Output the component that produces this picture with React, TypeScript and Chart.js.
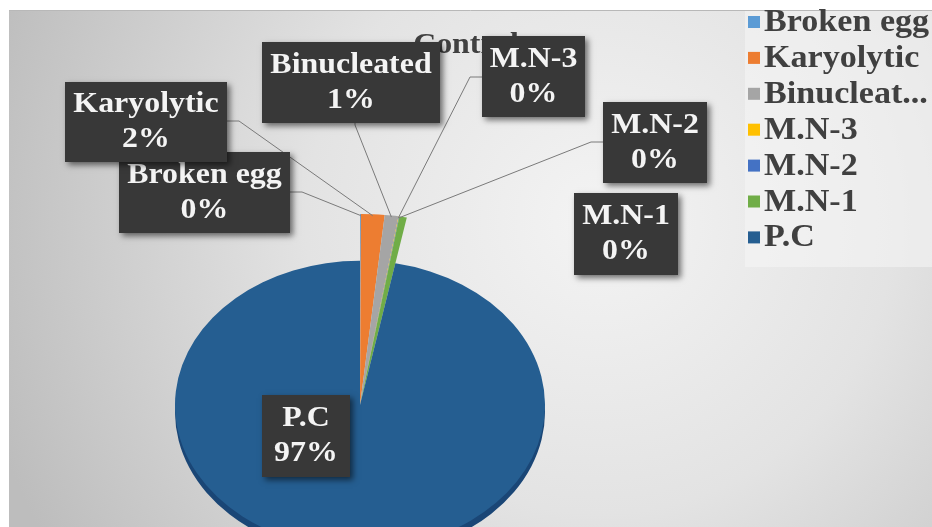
import React, { useEffect, useRef } from "react";
import { Chart, registerables } from "chart.js";

Chart.register(...registerables);

// ---- data ----
const categories = ["Broken egg", "Karyolytic", "Binucleated", "M.N-3", "M.N-2", "M.N-1", "P.C"];
const values = [0.06, 1.55, 0.9, 0.03, 0.03, 0.49, 96.94];
const sliceColors = ["#5B9BD5", "#ED7D31", "#A5A5A5", "#FFC000", "#4472C4", "#70AD47", "#255E91"];
// how far (px) each slice is pulled out beyond the pie rim (styling, not data)
const pullOut = [60, 60, 60, 60, 60, 60, 0];
const chartTitle = "Control";

// ---- layout (label boxes, not data) ----
type Box = { x: number; y: number; w: number; h: number; side: string; ay?: number; ax?: number };
const labelBoxes: Box[] = [
  { x: 119, y: 152, w: 171, h: 81, side: "right", ay: 192 },
  { x: 65, y: 82, w: 162, h: 80, side: "right", ay: 121 },
  { x: 262, y: 42, w: 178, h: 81, side: "bottom", ax: 355 },
  { x: 482, y: 36, w: 103, h: 81, side: "left", ay: 77 },
  { x: 603, y: 102, w: 104, h: 81, side: "left", ay: 142 },
  { x: 574, y: 193, w: 104, h: 82, side: "none" },
  { x: 262, y: 395, w: 88, h: 82, side: "none" },
];
const drawOrder = [2, 3, 4, 5, 6, 0, 1];

const SY = 0.78; // perspective squash
const DEPTH = 9;
const FONT = "'Liberation Serif', 'Times New Roman', serif";
const HS = 1.1;

function stretchedText(ctx: CanvasRenderingContext2D, t: string, x: number, y: number) {
  ctx.save();
  ctx.translate(x, y);
  ctx.scale(HS, 1);
  ctx.fillText(t, 0, 0);
  ctx.restore();
}

const bgPlugin = {
  id: "bgPlugin",
  beforeDraw(chart: any) {
    const ctx = chart.ctx as CanvasRenderingContext2D;
    const W = chart.width, H = chart.height;
    ctx.save();
    ctx.fillStyle = "#ffffff";
    ctx.fillRect(0, 0, W, H);
    const g = ctx.createRadialGradient(600, 220, 10, 600, 220, 640);
    g.addColorStop(0, "#f3f3f3");
    g.addColorStop(0.45, "#e3e3e3");
    g.addColorStop(1, "#bdbdbd");
    ctx.fillStyle = g;
    ctx.fillRect(9, 10, W - 9, H - 10);
    ctx.strokeStyle = "#b8b8b8";
    ctx.lineWidth = 1;
    ctx.beginPath();
    ctx.moveTo(9, 10.5);
    ctx.lineTo(W, 10.5);
    ctx.stroke();
    // legend panel
    ctx.fillStyle = "rgba(245,245,245,0.55)";
    ctx.fillRect(745, 11, W - 745, 256);

    // title (mostly hidden behind label boxes, as in the original)
    ctx.fillStyle = "#404040";
    ctx.font = `bold 29px ${FONT}`;
    ctx.textAlign = "center";
    ctx.textBaseline = "middle";
    stretchedText(ctx, chartTitle, 466, 46);

    // legend
    const labels: string[] = chart.data.labels;
    const colors: string[] = chart.data.datasets[0].backgroundColor;
    ctx.font = `bold 31px ${FONT}`;
    ctx.textAlign = "left";
    const textX = 764;
    const maxW = (W - textX) / HS;
    labels.forEach((lab, i) => {
      const cy = 22 + i * 35.9;
      ctx.fillStyle = colors[i];
      ctx.fillRect(748, cy - 6, 12, 12);
      let t = lab;
      if (ctx.measureText(t).width > maxW) {
        while (t.length > 1 && ctx.measureText(t + "...").width > maxW) t = t.slice(0, -1);
        t = t + "...";
      }
      ctx.fillStyle = "#404040";
      stretchedText(ctx, t, textX, cy + 1);
    });
    ctx.restore();
  },
};

function arcCenter(chart: any) {
  const a = chart.getDatasetMeta(0).data[0];
  return { cx: a.x, cy: a.y };
}

const ellipsePlugin = {
  id: "ellipsePlugin",
  afterDatasetsUpdate(chart: any) {
    const meta = chart.getDatasetMeta(0);
    meta.data.forEach((arc: any, i: number) => {
      arc.outerRadius = arc.outerRadius + (pullOut[i] || 0);
    });
  },
  beforeDatasetsDraw(chart: any) {
    const ctx = chart.ctx as CanvasRenderingContext2D;
    const { cx, cy } = arcCenter(chart);
    ctx.save();
    ctx.translate(cx, cy);
    ctx.scale(1, SY);
    ctx.translate(-cx, -cy);
    // 3D depth of the large slice
    const meta = chart.getDatasetMeta(0);
    const big = meta.data[meta.data.length - 1];
    ctx.save();
    ctx.translate(0, DEPTH);
    ctx.fillStyle = "#1a4676";
    ctx.beginPath();
    ctx.moveTo(big.x, big.y);
    ctx.arc(big.x, big.y, big.outerRadius, big.startAngle, big.endAngle);
    ctx.closePath();
    ctx.fill();
    ctx.restore();
  },
  afterDatasetsDraw(chart: any) {
    chart.ctx.restore();
  },
};

const labelPlugin = {
  id: "labelPlugin",
  afterDraw(chart: any) {
    const ctx = chart.ctx as CanvasRenderingContext2D;
    const meta = chart.getDatasetMeta(0);
    const data: number[] = chart.data.datasets[0].data;
    const labels: string[] = chart.data.labels;
    const total = data.reduce((s, v) => s + v, 0);
    const { cy } = arcCenter(chart);

    const anchor = (i: number) => {
      const a = meta.data[i];
      const mid = (a.startAngle + a.endAngle) / 2;
      const r = a.outerRadius - 2;
      const px = a.x + Math.cos(mid) * r;
      const py = a.y + Math.sin(mid) * r;
      return { x: px, y: cy + (py - cy) * SY };
    };

    ctx.save();
    // leader lines
    ctx.strokeStyle = "#7a7a7a";
    ctx.lineWidth = 1;
    labelBoxes.forEach((b, i) => {
      if (b.side === "none") return;
      const p = anchor(i);
      ctx.beginPath();
      if (b.side === "right") {
        ctx.moveTo(b.x + b.w, b.ay!);
        ctx.lineTo(b.x + b.w + 12, b.ay!);
      } else if (b.side === "left") {
        ctx.moveTo(b.x, b.ay!);
        ctx.lineTo(b.x - 12, b.ay!);
      } else {
        ctx.moveTo(b.ax!, b.y + b.h);
        ctx.lineTo(b.ax!, b.y + b.h + 2);
      }
      ctx.lineTo(p.x, p.y);
      ctx.stroke();
    });

    // boxes
    drawOrder.forEach((i) => {
      const b = labelBoxes[i];
      ctx.save();
      ctx.shadowColor = "rgba(0,0,0,0.55)";
      ctx.shadowBlur = 6;
      ctx.shadowOffsetX = 3;
      ctx.shadowOffsetY = 3;
      ctx.fillStyle = "#383838";
      ctx.fillRect(b.x, b.y, b.w, b.h);
      ctx.restore();
      ctx.fillStyle = "#f4f4f4";
      ctx.font = `bold 29px ${FONT}`;
      ctx.textAlign = "center";
      ctx.textBaseline = "middle";
      const pct = Math.round((data[i] / total) * 100) + "%";
      const mx = b.x + b.w / 2;
      const my = b.y + b.h / 2;
      stretchedText(ctx, labels[i], mx, my - 17);
      stretchedText(ctx, pct, mx, my + 18);
    });
    ctx.restore();
  },
};

export default function App() {
  const ref = useRef<HTMLCanvasElement | null>(null);
  useEffect(() => {
    document.body.style.margin = "0";
    if (!ref.current) return;
    const chart = new Chart(ref.current, {
      type: "pie",
      data: {
        labels: categories,
        datasets: [
          {
            data: values,
            backgroundColor: sliceColors,
            borderWidth: 0,
            clip: false,
          } as any,
        ],
      },
      options: {
        animation: false,
        responsive: false,
        events: [],
        radius: 185,
        layout: { padding: { left: 0, right: 212, top: 283, bottom: 0 } },
        plugins: {
          legend: { display: false },
          title: { display: false },
          tooltip: { enabled: false },
        },
      } as any,
      plugins: [bgPlugin, ellipsePlugin, labelPlugin],
    });
    return () => chart.destroy();
  }, []);
  return (
    <div style={{ width: 932, height: 527 }}>
      <canvas ref={ref} width={932} height={527} />
    </div>
  );
}
